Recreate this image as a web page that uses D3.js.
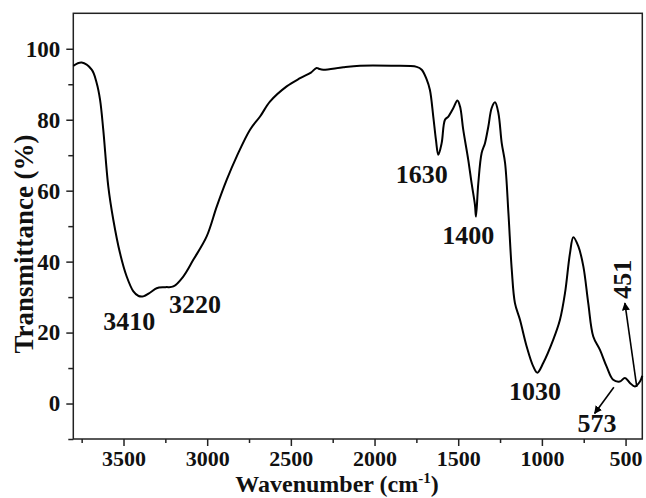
<!DOCTYPE html>
<html><head><meta charset="utf-8">
<script src="https://cdn.jsdelivr.net/npm/d3@7"></script>
<style>
html,body{margin:0;padding:0;background:#fff;}
text{font-family:"Liberation Serif","Times New Roman",serif;font-weight:bold;fill:#111;}
</style></head>
<body><svg id="c" width="646" height="498"></svg>
<script>
// Data
const wavenumber = [3800,3750,3690,3660,3640,3621,3591,3561,3521,3481,3441,3410,3382,3340,3302,3250,3202,3143,3083,3003,2943,2883,2824,2744,2684,2625,2525,2445,2380,2346,2330,2306,2187,2087,1900,1748,1718,1688,1669,1649,1633,1619,1599,1579,1559,1529,1505,1489,1470,1440,1420,1400,1394,1380,1360,1340,1320,1300,1280,1260,1240,1220,1200,1180,1161,1131,1091,1051,1027,992,932,892,862,832,812,782,752,723,693,653,613,574,534,504,474,444,414,400];
const transmittance = [95.2,96.1,94.1,90.3,85.6,77.2,61.2,51.8,42.4,35.8,31.6,30.3,30.2,31.3,32.5,32.8,33.0,35.8,40.5,47.1,55.5,63.1,69.6,77.2,80.9,85.1,89.4,91.7,93.3,94.6,94.3,94.1,94.8,95.2,95.2,94.9,94.1,91.3,88.4,80.9,74.3,70.1,73.4,80.0,80.9,83.3,85.4,83.7,77.2,68.7,62.1,56.0,52.7,62.1,70.6,73.4,78.1,83.3,84.9,81.9,73.4,67.8,53.7,37.7,28.3,23.6,16.1,10.4,8.7,11.4,18.0,23.6,31.1,42.4,46.9,44.3,38.6,28.3,18.9,15.1,10.4,6.7,6.2,7.2,5.8,4.8,6.2,7.8];
const xMajorTicks = [3500,3000,2500,2000,1500,1000,500];
const xMinorTicks = [3750,3250,2750,2250,1750,1250,750];
const yMajorTicks = [0,20,40,60,80,100];
const yMinorTicks = [-10,10,30,50,70,90];
const peakLabels = ["3410","3220","1630","1400","1030"];
const peakLabelX = [3466,3073,1718,1440,1041];   // label centre in wavenumber
const peakLabelY = [20.8,25.6,62.2,45.0,1.0];    // baseline in transmittance
const arrowLabels = ["573","451"];

const svg = d3.select("#c");
const L=73.3, R=642.3, T=13.3, B=439;
const x = d3.scaleLinear().domain([3800,400]).range([L,R]);
const y = d3.scaleLinear().domain([-10,110]).range([B,T]);

// frame
svg.append("rect").attr("x",L).attr("y",T).attr("width",R-L).attr("height",B-T)
  .attr("fill","none").attr("stroke","#222").attr("stroke-width",1.5);

// x axis
const gx = svg.append("g").attr("transform",`translate(0,${B})`);
gx.call(d3.axisBottom(x).tickValues(xMajorTicks).tickSize(7).tickPadding(4).tickFormat(d3.format("d")));
gx.append("g").call(d3.axisBottom(x).tickValues(xMinorTicks).tickSize(4).tickFormat(""));
gx.selectAll(".domain").remove();
gx.selectAll("line").attr("stroke","#222").attr("stroke-width",1.5);
gx.selectAll("text").style("font-size","22px").style("font-family","Liberation Serif").style("font-weight","bold").attr("fill","#111");

// y axis
const gy = svg.append("g").attr("transform",`translate(${L},0)`);
gy.call(d3.axisLeft(y).tickValues(yMajorTicks).tickSize(7).tickPadding(6).tickFormat(d3.format("d")));
gy.append("g").call(d3.axisLeft(y).tickValues(yMinorTicks).tickSize(5).tickFormat(""));
gy.selectAll(".domain").remove();
gy.selectAll("line").attr("stroke","#222").attr("stroke-width",1.5);
gy.selectAll("text").style("font-size","23px").style("font-family","Liberation Serif").style("font-weight","bold").attr("fill","#111");

// axis titles
const xt = svg.append("text").attr("x",337).attr("y",492).attr("text-anchor","middle").style("font-size","24px");
xt.append("tspan").text("Wavenumber (cm");
xt.append("tspan").attr("dy",-9).style("font-size","15px").text("-1");
xt.append("tspan").attr("dy",9).text(")");
svg.append("text").attr("transform","translate(33,244) rotate(-90)").attr("text-anchor","middle")
  .style("font-size","27px").text("Transmittance (%)");

// spectrum
const pts = wavenumber.map((w,i)=>[w,transmittance[i]]);
svg.append("path").datum(pts)
  .attr("d", d3.line().x(d=>x(d[0])).y(d=>y(d[1])).curve(d3.curveCatmullRom.alpha(0.5)))
  .attr("fill","none").attr("stroke","#000").attr("stroke-width",2).attr("stroke-linejoin","round");

// peak labels
peakLabels.forEach((t,i)=>{
  svg.append("text").attr("x",x(peakLabelX[i])).attr("y",y(peakLabelY[i]))
    .attr("text-anchor","middle").style("font-size","26px").text(t);
});

// arrows
const defs = svg.append("defs");
defs.append("marker").attr("id","ah").attr("viewBox","0 0 10 10").attr("refX",9).attr("refY",5)
  .attr("markerWidth",5).attr("markerHeight",5).attr("orient","auto")
  .append("path").attr("d","M0,0 L10,5 L0,10 Z").attr("fill","#000");
// 573 arrow
svg.append("line").attr("x1",x(570)).attr("y1",y(4.6)).attr("x2",x(685)).attr("y2",y(-2.8))
  .attr("stroke","#000").attr("stroke-width",1.6).attr("marker-end","url(#ah)");
svg.append("text").attr("x",x(670)).attr("y",y(-8.1)).attr("text-anchor","middle").style("font-size","26px").text(arrowLabels[0]);
// 451 arrow
svg.append("line").attr("x1",x(433)).attr("y1",y(4.7)).attr("x2",x(504)).attr("y2",y(28.3))
  .attr("stroke","#000").attr("stroke-width",1.6).attr("marker-end","url(#ah)");
svg.append("text").attr("transform",`translate(${x(470)},${y(29.5)}) rotate(-90)`).attr("text-anchor","start")
  .style("font-size","26px").text(arrowLabels[1]);
</script></body></html>
